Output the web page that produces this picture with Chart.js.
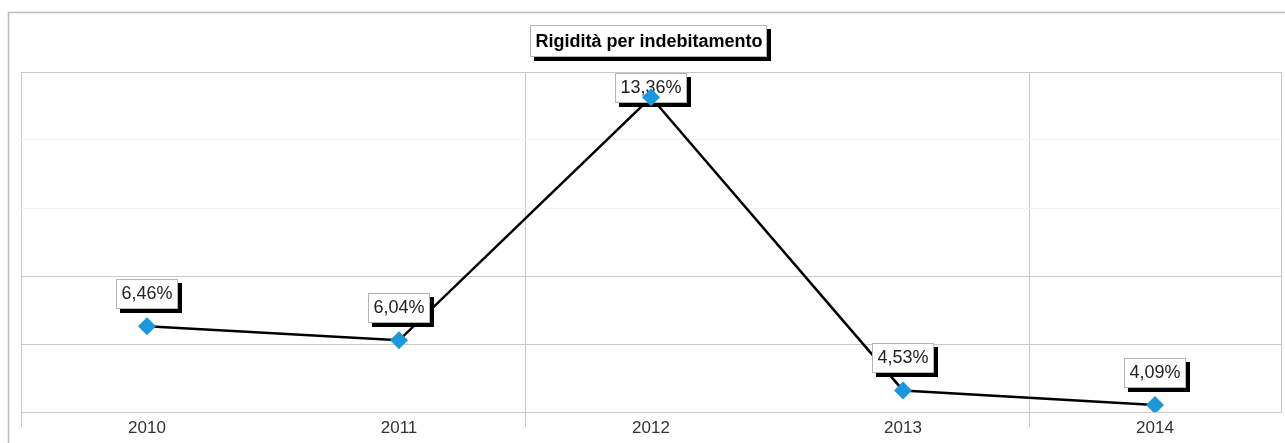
<!DOCTYPE html>
<html>
<head>
<meta charset="utf-8">
<script src="https://cdn.jsdelivr.net/npm/chart.js@4/dist/chart.umd.min.js"></script>
<style>
    body { margin: 0; background: #fff; }
    #wrap { width: 1285px; height: 443px; }
</style>
</head>
<body>
<div id="wrap"><canvas id="rigChart" width="1285" height="443"></canvas></div>
<script>
const years = ['2010', '2011', '2012', '2013', '2014'];
const values = [6.46, 6.04, 13.36, 4.53, 4.09];
const chartTitle = 'Rigidità per indebitamento';
const yMin = 3.88;
const yMax = 14.12;

const gridColor = '#c8c8c8';
const faintGrid = '#f2f2f2';
const pointBlue = '#1b98dd';

function fmt(v) {
    return v.toFixed(2).replace('.', ',') + '%';
}

// box with black drop shadow, used for title and value labels
function shadowBox(ctx, x, y, w, h) {
    ctx.fillStyle = '#000';
    ctx.fillRect(x + 4, y + 4, w, h);
    ctx.fillStyle = '#fff';
    ctx.fillRect(x, y, w, h);
    ctx.strokeStyle = '#b4b4b4';
    ctx.lineWidth = 1;
    ctx.strokeRect(x + 0.5, y + 0.5, w - 1, h - 1);
}

const framePlugin = {
    id: 'frame',
    beforeDraw(chart) {
        const ctx = chart.ctx;
        ctx.save();
        ctx.strokeStyle = '#bdbdbd';
        ctx.lineWidth = 1.5;
        ctx.strokeRect(8.5, 12.5, 1290, 450);
        ctx.restore();
    },
    afterDraw(chart) {
        const ctx = chart.ctx;
        ctx.save();
        ctx.font = 'bold 18px "Liberation Sans", Arial, sans-serif';
        const tw = ctx.measureText(chartTitle).width;
        const w = tw + 10, h = 32;
        const cx = 649;
        const x = Math.round(cx - w / 2), y = 25;
        shadowBox(ctx, x, y, w, h);
        ctx.fillStyle = '#000';
        ctx.textAlign = 'center';
        ctx.textBaseline = 'middle';
        ctx.fillText(chartTitle, cx, y + h / 2 + 1);
        ctx.restore();
    }
};

const labelPlugin = {
    id: 'valueLabels',
    afterDatasetDraw(chart, args) {
        if (args.index !== 0) return;
        const ctx = chart.ctx;
        const area = chart.chartArea;
        ctx.save();
        ctx.font = '18px "Liberation Sans", Arial, sans-serif';
        args.meta.data.forEach((pt, i) => {
            const txt = fmt(values[i]);
            const w = Math.round(ctx.measureText(txt).width + 11);
            const h = 30;
            let x = Math.round(pt.x - w / 2);
            let y = Math.round(pt.y - 17 - h);
            if (y < area.top + 1) y = area.top + 1;
            shadowBox(ctx, x, y, w, h);
            ctx.fillStyle = '#222';
            ctx.textAlign = 'center';
            ctx.textBaseline = 'middle';
            ctx.fillText(txt, x + w / 2, y + h / 2);
        });
        ctx.restore();
    }
};

new Chart(document.getElementById('rigChart'), {
    type: 'line',
    data: {
        labels: years,
        datasets: [{
            data: values,
            borderColor: '#000',
            borderWidth: 2.5,
            pointRadius: 0,
            tension: 0,
            fill: false,
            order: 2
        }, {
            data: values,
            showLine: false,
            pointStyle: 'rectRot',
            pointRadius: 9,
            pointBackgroundColor: pointBlue,
            pointBorderWidth: 0,
            order: 1
        }]
    },
    options: {
        responsive: false,
        animation: false,
        layout: { autoPadding: false, padding: { left: 21, right: 4, top: 72, bottom: 0 } },
        plugins: {
            legend: { display: false },
            tooltip: { enabled: false },
            title: { display: false }
        },
        scales: {
            x: {
                offset: true,
                grid: {
                    offset: true,
                    color: c => (c.type !== 'tick' || c.index % 2 === 0) ? gridColor : 'transparent',
                    tickColor: c => (c.type === 'tick' && c.index % 2 === 0) ? gridColor : 'transparent',
                    tickLength: 15
                },
                border: { display: true, color: gridColor },
                ticks: {
                    color: '#333',
                    padding: -9,
                    font: { family: '"Liberation Sans", Arial, sans-serif', size: 17 }
                },
                afterFit: scale => { scale.height = 31; }
            },
            y: {
                min: yMin,
                max: yMax,
                ticks: { display: false, count: 6 },
                grid: {
                    drawTicks: false,
                    color: c => (c.index === 3 || c.index === 4) ? faintGrid : gridColor
                },
                border: { display: false },
                afterFit: scale => { scale.width = 0; }
            }
        }
    },
    plugins: [framePlugin, labelPlugin]
});
</script>
</body>
</html>
